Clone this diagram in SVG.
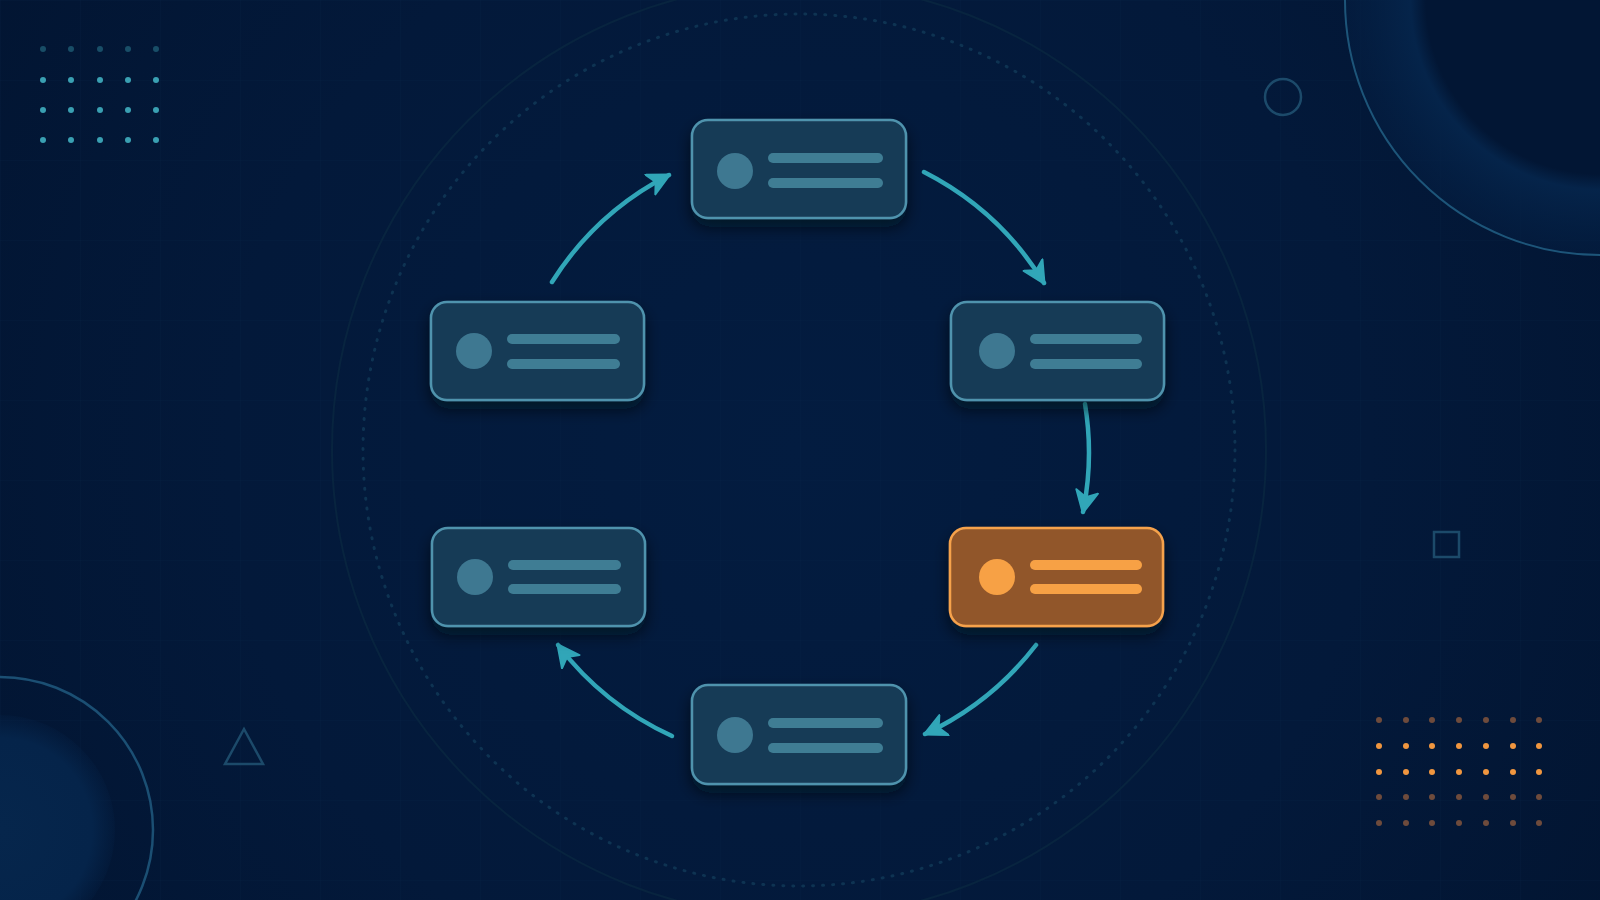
<svg xmlns="http://www.w3.org/2000/svg" width="1600" height="900" viewBox="0 0 1600 900">
<defs>
  <radialGradient id="bg" cx="800" cy="450" r="950" gradientUnits="userSpaceOnUse">
    <stop offset="0" stop-color="#031c40"/>
    <stop offset="0.6" stop-color="#03193a"/>
    <stop offset="1" stop-color="#021532"/>
  </radialGradient>
  <radialGradient id="ringTR" cx="1600" cy="0" r="256" gradientUnits="userSpaceOnUse">
    <stop offset="0.68" stop-color="#021634"/>
    <stop offset="0.74" stop-color="#05244a"/>
    <stop offset="1" stop-color="#042045" stop-opacity="0.4"/>
  </radialGradient>
  <radialGradient id="discBL" cx="0" cy="830" r="115" gradientUnits="userSpaceOnUse">
    <stop offset="0" stop-color="#06264c"/>
    <stop offset="0.8" stop-color="#05244a"/>
    <stop offset="1" stop-color="#05244a" stop-opacity="0.2"/>
  </radialGradient>
  <pattern id="grid" width="80" height="80" patternUnits="userSpaceOnUse">
    <path d="M80 0 L0 0 0 80" fill="none" stroke="#0a2848" stroke-width="1" opacity="0.35"/>
  </pattern>
  <filter id="shadow" x="-20%" y="-20%" width="140%" height="160%">
    <feDropShadow dx="0" dy="8" stdDeviation="8" flood-color="#000814" flood-opacity="0.6"/>
  </filter>
  <marker id="arrow" markerUnits="userSpaceOnUse" markerWidth="28" markerHeight="26" refX="22" refY="12" orient="auto">
    <path d="M1,1 L23,12 L1,23 L7,12 z" fill="#31a6b8" stroke="#31a6b8" stroke-width="2" stroke-linejoin="round"/>
  </marker>
  <style>
    .node rect.box { fill:#183a56; stroke:#4f93ad; stroke-width:2.5; }
    .node circle { fill:#3e7891; }
    .node line { stroke:#3f7d94; stroke-width:10; stroke-linecap:round; }
    .hot rect.box { fill:#915729; stroke:#f6a24c; }
    .hot circle { fill:#f7a145; }
    .hot line { stroke:#f7a145; }
    .conn path { fill:none; stroke:#31a6b8; stroke-width:4.5; stroke-linecap:round; marker-end:url(#arrow); }
    .deco { fill:none; stroke:#1c4a6a; stroke-width:2.5; }
    .tdot { fill:#3aa0b2; }
    .odot { fill:#f0963f; }
    .odim { fill:#6e4b3c; }
  </style>
</defs>

<rect width="1600" height="900" fill="url(#bg)"/>
<rect width="1600" height="900" fill="url(#grid)"/>

<!-- background decorations -->
<circle cx="1600" cy="0" r="255" fill="url(#ringTR)"/>
<circle cx="1600" cy="0" r="255" fill="none" stroke="#1d5579" stroke-width="2"/>
<circle cx="0" cy="830" r="115" fill="url(#discBL)"/>
<circle cx="0" cy="830" r="153" fill="none" stroke="#1b4f73" stroke-width="2.5"/>
<circle cx="799" cy="450" r="467" fill="none" stroke="#08243f" stroke-width="2"/>
<circle cx="799" cy="450" r="436" fill="none" stroke="#0e3352" stroke-width="3" stroke-dasharray="1 9" stroke-linecap="round"/>
<circle class="deco" cx="1283" cy="97" r="18"/>
<rect class="deco" x="1434" y="532" width="25" height="25"/>
<polygon class="deco" points="244,729 225,764 263,764"/>

<g id="dots-teal">
  <g class="tdot" opacity="0.4">
    <circle cx="43" cy="49" r="3"/><circle cx="71" cy="49" r="3"/><circle cx="100" cy="49" r="3"/><circle cx="128" cy="49" r="3"/><circle cx="156" cy="49" r="3"/>
  </g>
  <g class="tdot">
    <circle cx="43" cy="80" r="3"/><circle cx="71" cy="80" r="3"/><circle cx="100" cy="80" r="3"/><circle cx="128" cy="80" r="3"/><circle cx="156" cy="80" r="3"/>
    <circle cx="43" cy="110" r="3"/><circle cx="71" cy="110" r="3"/><circle cx="100" cy="110" r="3"/><circle cx="128" cy="110" r="3"/><circle cx="156" cy="110" r="3"/>
    <circle cx="43" cy="140" r="3"/><circle cx="71" cy="140" r="3"/><circle cx="100" cy="140" r="3"/><circle cx="128" cy="140" r="3"/><circle cx="156" cy="140" r="3"/>
  </g>
</g>

<g id="dots-orange">
  <g class="odim">
    <circle cx="1379" cy="720" r="3"/><circle cx="1406" cy="720" r="3"/><circle cx="1432" cy="720" r="3"/><circle cx="1459" cy="720" r="3"/><circle cx="1486" cy="720" r="3"/><circle cx="1513" cy="720" r="3"/><circle cx="1539" cy="720" r="3"/>
    <circle cx="1379" cy="797" r="3"/><circle cx="1406" cy="797" r="3"/><circle cx="1432" cy="797" r="3"/><circle cx="1459" cy="797" r="3"/><circle cx="1486" cy="797" r="3"/><circle cx="1513" cy="797" r="3"/><circle cx="1539" cy="797" r="3"/>
    <circle cx="1379" cy="823" r="3"/><circle cx="1406" cy="823" r="3"/><circle cx="1432" cy="823" r="3"/><circle cx="1459" cy="823" r="3"/><circle cx="1486" cy="823" r="3"/><circle cx="1513" cy="823" r="3"/><circle cx="1539" cy="823" r="3"/>
  </g>
  <g class="odot">
    <circle cx="1379" cy="746" r="3"/><circle cx="1406" cy="746" r="3"/><circle cx="1432" cy="746" r="3"/><circle cx="1459" cy="746" r="3"/><circle cx="1486" cy="746" r="3"/><circle cx="1513" cy="746" r="3"/><circle cx="1539" cy="746" r="3"/>
    <circle cx="1379" cy="772" r="3"/><circle cx="1406" cy="772" r="3"/><circle cx="1432" cy="772" r="3"/><circle cx="1459" cy="772" r="3"/><circle cx="1486" cy="772" r="3"/><circle cx="1513" cy="772" r="3"/><circle cx="1539" cy="772" r="3"/>
  </g>
</g>

<!-- connectors -->
<g id="connectors" class="conn">
  <path d="M552,282 A300,300 0 0,1 669,175"/>
  <path d="M924,172 A300,300 0 0,1 1044,283"/>
  <path d="M1085,404 A300,300 0 0,1 1083,512"/>
  <path d="M1036,645 A300,300 0 0,1 925,734"/>
  <path d="M672,736 A300,300 0 0,1 558,645"/>
</g>

<!-- nodes -->
<g id="node-top" class="node" transform="translate(692,120)">
  <rect class="box" width="214" height="98" rx="16" filter="url(#shadow)"/>
  <circle cx="43" cy="51" r="18"/>
  <line x1="81" y1="38" x2="186" y2="38"/>
  <line x1="81" y1="63" x2="186" y2="63"/>
</g>
<g id="node-right" class="node" transform="translate(951,302)">
  <rect class="box" width="213" height="98" rx="16" filter="url(#shadow)"/>
  <circle cx="46" cy="49" r="18"/>
  <line x1="84" y1="37" x2="186" y2="37"/>
  <line x1="84" y1="62" x2="186" y2="62"/>
</g>
<g id="node-left" class="node" transform="translate(431,302)">
  <rect class="box" width="213" height="98" rx="16" filter="url(#shadow)"/>
  <circle cx="43" cy="49" r="18"/>
  <line x1="81" y1="37" x2="184" y2="37"/>
  <line x1="81" y1="62" x2="184" y2="62"/>
</g>
<g id="node-active" class="node hot" transform="translate(950,528)">
  <rect class="box" width="213" height="98" rx="16" filter="url(#shadow)"/>
  <circle cx="47" cy="49" r="18"/>
  <line x1="85" y1="37" x2="187" y2="37"/>
  <line x1="85" y1="61" x2="187" y2="61"/>
</g>
<g id="node-left-lower" class="node" transform="translate(432,528)">
  <rect class="box" width="213" height="98" rx="16" filter="url(#shadow)"/>
  <circle cx="43" cy="49" r="18"/>
  <line x1="81" y1="37" x2="184" y2="37"/>
  <line x1="81" y1="61" x2="184" y2="61"/>
</g>
<g id="node-bottom" class="node" transform="translate(692,685)">
  <rect class="box" width="214" height="99" rx="16" filter="url(#shadow)"/>
  <circle cx="43" cy="50" r="18"/>
  <line x1="81" y1="38" x2="186" y2="38"/>
  <line x1="81" y1="63" x2="186" y2="63"/>
</g>
</svg>
